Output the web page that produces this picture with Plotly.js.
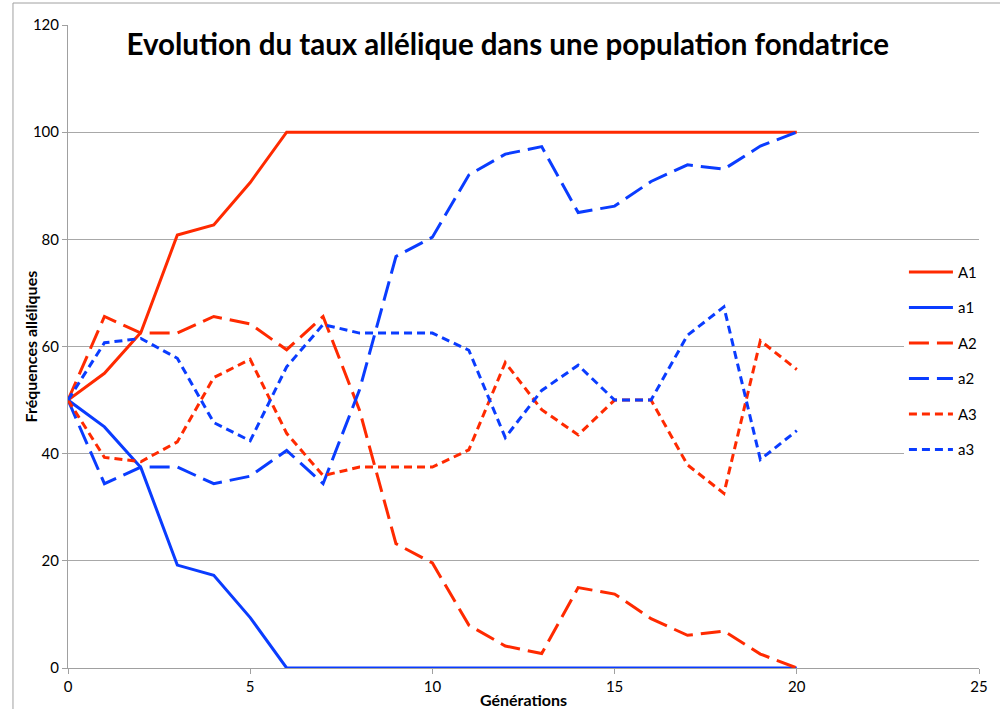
<!DOCTYPE html>
<html>
<head>
<meta charset="utf-8">
<script src="https://cdn.plot.ly/plotly-3.0.1.min.js"></script>
<style>
  html, body { margin: 0; padding: 0; background: #fff; }
  #chart { width: 1000px; height: 709px; }
</style>
</head>
<body>
<div id="chart"></div>
<script>
const generations = [0,1,2,3,4,5,6,7,8,9,10,11,12,13,14,15,16,17,18,19,20];
const A1 = [50, 55, 62.6, 80.8, 82.7, 90.6, 100, 100, 100, 100, 100, 100, 100, 100, 100, 100, 100, 100, 100, 100, 100];
const a1 = [50, 45, 37.4, 19.2, 17.3, 9.4, 0, 0, 0, 0, 0, 0, 0, 0, 0, 0, 0, 0, 0, 0, 0];
const A2 = [50, 65.6, 62.5, 62.5, 65.6, 64.2, 59.4, 65.6, 48.1, 23.2, 19.6, 8.0, 4.1, 2.7, 15.0, 13.8, 9.2, 6.1, 6.9, 2.6, 0];
const a2 = [50, 34.4, 37.5, 37.5, 34.4, 35.8, 40.6, 34.4, 51.9, 76.8, 80.4, 92.0, 95.9, 97.3, 85.0, 86.2, 90.8, 93.9, 93.1, 97.4, 100];
const A3 = [50, 39.3, 38.5, 42.2, 54.2, 57.6, 43.8, 35.9, 37.5, 37.5, 37.5, 40.7, 57.0, 48.2, 43.5, 50, 50, 37.9, 32.6, 61.1, 55.7];
const a3 = [50, 60.7, 61.5, 57.8, 45.8, 42.4, 56.2, 64.1, 62.5, 62.5, 62.5, 59.3, 43.0, 51.8, 56.5, 50, 50, 62.1, 67.4, 38.9, 44.3];
const seriesNames = ['A1', 'a1', 'A2', 'a2', 'A3', 'a3'];

const RED = '#ff2a00';
const BLUE = '#0a3cff';
const LONG = '20px,8px';
const SHORT = '8px,5px';

const seriesData = [A1, a1, A2, a2, A3, a3];
const colors = [RED, BLUE, RED, BLUE, RED, BLUE];
const dashes = ['solid', 'solid', LONG, LONG, SHORT, SHORT];

const traces = seriesData.map((ys, i) => ({
  type: 'scatter',
  mode: 'lines',
  x: generations,
  y: ys,
  name: seriesNames[i],
  legendgroup: 'g' + i,
  line: { color: colors[i], width: 3, dash: dashes[i] },
  hoverinfo: 'skip'
}));

const FONT = 'Lato, "Open Sans", sans-serif';

const layout = {
  width: 1000,
  height: 709,
  margin: { l: 68, r: 21, t: 25, b: 41 },
  paper_bgcolor: '#ffffff',
  plot_bgcolor: '#ffffff',
  font: { family: FONT, size: 15, color: '#000' },
  title: {
    text: '<b>Evolution du taux allélique dans une population fondatrice</b>',
    font: { family: FONT, size: 29.5, color: '#000' },
    x: 0.5077, xanchor: 'center',
    y: 0.937, yanchor: 'middle'
  },
  xaxis: {
    range: [0, 25],
    dtick: 5, tick0: 0,
    showgrid: false,
    zeroline: false,
    showline: true, linecolor: '#a0a0a0', linewidth: 1,
    ticks: 'outside', ticklen: 5, tickcolor: '#a0a0a0',
    tickfont: { family: FONT, size: 15, color: '#000' },
    title: { text: '<b>Générations</b>', font: { family: FONT, size: 16, color: '#000' }, standoff: 0 }
  },
  yaxis: {
    range: [0, 120],
    dtick: 20, tick0: 0,
    showgrid: true, gridcolor: '#a8a8a8', gridwidth: 1,
    zeroline: false,
    showline: true, linecolor: '#a0a0a0', linewidth: 1,
    ticks: 'outside', ticklen: 5, tickcolor: '#a0a0a0',
    tickfont: { family: FONT, size: 15, color: '#000' }
  },
  annotations: [{
    text: '<b>Fréquences alléliques</b>',
    xref: 'paper', yref: 'paper',
    x: -0.0417, y: 0.5,
    xanchor: 'center', yanchor: 'middle',
    textangle: -90,
    showarrow: false,
    font: { family: FONT, size: 16, color: '#000' }
  }],
  showlegend: true,
  legend: {
    x: 0.9176, xanchor: 'left',
    y: 0.478, yanchor: 'middle',
    bgcolor: '#ffffff',
    borderwidth: 0,
    itemwidth: 44,
    tracegroupgap: 13,
    font: { family: FONT, size: 15, color: '#000' }
  },
  shapes: [{
    type: 'rect', xref: 'paper', yref: 'paper',
    x0: -0.0604, x1: 1.04, y0: -0.1, y1: 1.0342,
    line: { color: '#a0a0a0', width: 1 },
    fillcolor: 'rgba(0,0,0,0)',
    layer: 'below'
  }]
};

Plotly.newPlot('chart', traces, layout, { displayModeBar: false, staticPlot: true });
</script>
</body>
</html>
